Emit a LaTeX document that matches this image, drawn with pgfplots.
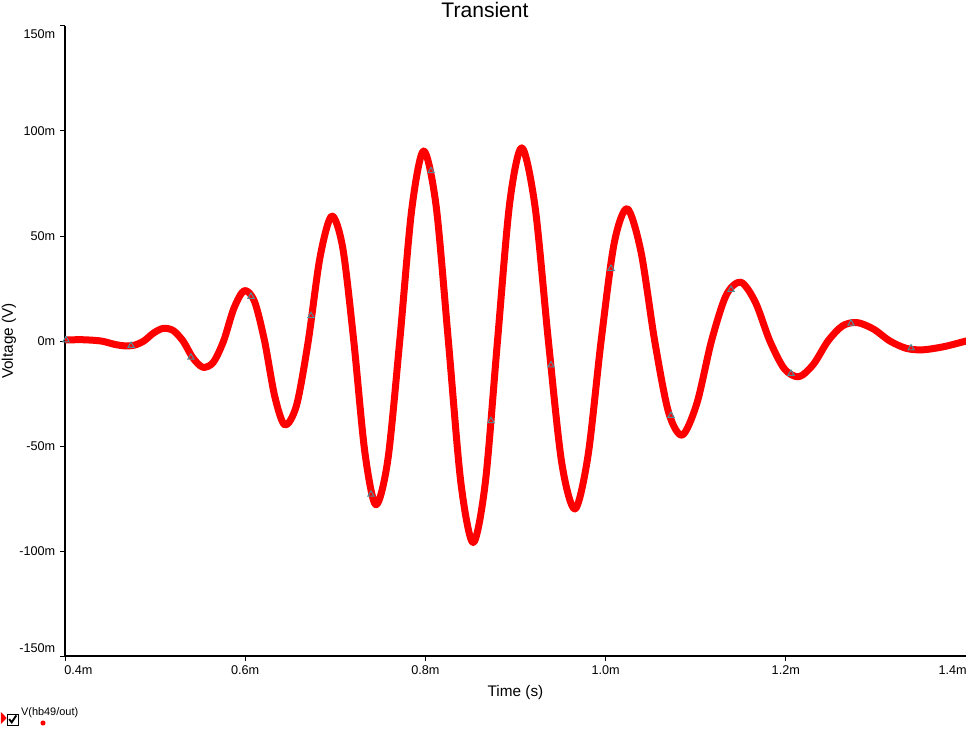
\documentclass[border=0pt]{standalone}
\usepackage{pgfplots}
\pgfplotsset{compat=1.18}
\usepackage{fontspec}
\setmainfont{Liberation Sans}
\definecolor{mkcol}{RGB}{80,140,150}

\pgfplotstableread{
t v
0.400 0.5
0.420 0.6
0.440 0.0
0.455 -1.6
0.466 -2.3
0.4768 -2.0
0.4875 0
0.4983 3.81
0.509 6.0
0.520 5.01
0.531 0
0.542 -8.07
0.553 -12.5
0.5645 -10.19
0.576 0
0.5875 15.61
0.599 24
0.6103 18.85
0.6215 0
0.6328 -26.39
0.644 -40
0.657 -30.58
0.670 0
0.683 39.77
0.696 59.5
0.7083 44.25
0.7205 0
0.7328 -52.97
0.745 -78
0.7583 -56.62
0.7715 0
0.7848 62.51
0.798 90.5
0.8118 64.63
0.8255 0
0.8393 -67.22
0.853 -96
0.8665 -67.40
0.880 0
0.8935 65.52
0.907 92
0.9218 63.63
0.9365 0
0.9513 -57.97
0.966 -80
0.9805 -54.56
0.995 0
1.0095 46.54
1.024 63
1.0393 42.40
1.0545 0
1.0698 -33.82
1.085 -44.8
1.1013 -29.69
1.1175 0
1.1338 21.78
1.150 28
1.1662 18.50
1.1823 0
1.1985 -13.31
1.2146 -17
1.2307 -11.05
1.2468 0
1.2629 7.19
1.279 8.8
1.2973 5.68
1.3155 0
1.3338 -3.51
1.352 -4.2
1.376 -2.65
1.400 0.0
}\wave

\pgfplotstableread{
t v
0.4011 0.5
0.4733 -2.2
0.5398 -7.8
0.6064 21.2
0.6730 12.0
0.7396 -73
0.8062 81
0.8728 -38
0.9394 -11.5
1.0060 34.5
1.0726 -35.5
1.1392 24.5
1.2058 -15.5
1.2724 8.4
1.3390 -3.4
}\marks

\begin{document}
\begin{tikzpicture}
\useasboundingbox (0,0) rectangle (724.5pt,549.75pt);
\begin{axis}[
  at={(48.75pt,57.75pt)}, anchor=south west,
  width=675.75pt, height=472.5pt, scale only axis,
  axis lines=left, axis line style={-, black, line width=0.9pt},
  xmin=0.4, xmax=1.4, ymin=-150, ymax=150,
  xtick={0.4,0.6,0.8,1.0,1.2,1.4},
  xticklabels={0.4m,0.6m,0.8m,1.0m,1.2m,1.4m},
  ytick={-150,-100,-50,0,50,100,150},
  yticklabels={-150m,-100m,-50m,0m,50m,100m,150m},
  tick align=outside, major tick length=3.75pt,
  tick style={black, line width=0.75pt},
  ticklabel style={font=\fontsize{9.5}{11}\selectfont},
  xticklabel style={xshift={10*(\ticknum==0)-10*(\ticknum==5)}},
  yticklabel style={yshift={6*(\ticknum==0)-6*(\ticknum==6)}},
  xlabel={Time (s)}, ylabel={Voltage (V)},
  label style={font=\fontsize{11.5}{13}\selectfont},
  xlabel style={at={(axis description cs:0.5,-0.0587)}, anchor=center},
  ylabel style={at={(axis description cs:-0.0622,0.5)}, anchor=center},
  clip=true,
]
\addplot[red, line width=5.25pt, smooth, line join=round, line cap=round] table[x=t,y=v] {\wave};
\addplot[only marks, mark=triangle, mark size=2.7pt, mark options={draw=mkcol, line width=0.75pt}] table[x=t,y=v] {\marks};
\end{axis}
\node[font=\fontsize{15.8}{18}\selectfont] at (363.75pt,542.6pt) {Transient};
% legend
\fill[red] (0.6pt,15.9pt) -- (0.6pt,6.6pt) -- (5.0pt,11.25pt) -- cycle;
\draw[black, line width=0.75pt] (5.25pt,6pt) rectangle (13.5pt,14.25pt);
\draw[black, line width=1.4pt] (6.9pt,10.4pt) -- (8.8pt,8pt) -- (12.2pt,13.2pt);
\node[anchor=west, inner sep=0pt, font=\fontsize{8.2}{9}\selectfont] at (15.6pt,15pt) {V(hb49/out)};
\fill[red] (32.25pt,7.5pt) circle (1.9pt);
\end{tikzpicture}
\end{document}
